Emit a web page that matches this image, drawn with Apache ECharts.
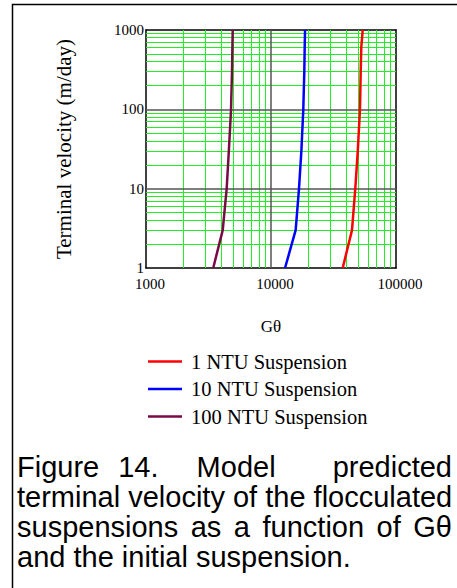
<!DOCTYPE html>
<html>
<head>
<meta charset="utf-8">
<script src="https://cdn.jsdelivr.net/npm/echarts@6/dist/echarts.min.js"></script>
<style>
  html, body { margin: 0; padding: 0; background: #fff; }
  #chart { position: absolute; left: 0; top: 0; width: 457px; height: 588px; }
  #caption { position: absolute; left: 17px; top: 452px; width: 435px;
    font-family: "Liberation Sans", Arial, sans-serif; font-size: 29px; line-height: 30px; color: #000; }
  .j { text-align: justify; text-align-last: justify; white-space: nowrap; }
  .l { text-align: left; white-space: nowrap; }
</style>
</head>
<body>
<div id="chart"></div>
<div id="caption">
  <div class="j">Figure 14. &nbsp;Model &nbsp;&nbsp;predicted</div>
  <div class="j">terminal velocity of the flocculated</div>
  <div class="j">suspensions as a function of Gθ</div>
  <div class="l">and the initial suspension.</div>
</div>
<script>
// Terminal velocity (m/day) values where each curve is read
const velocity = [1, 3, 10, 30, 100, 300, 600, 1000];
// Gθ values for each suspension
const g1NTU   = [37470, 44460, 47240, 49460, 51500, 52200, 52750, 54160];
const g10NTU  = [12950, 15750, 16750, 17500, 18130, 18470, 18600, 18720];
const g100NTU = [3450, 4110, 4420, 4600, 4790, 4875, 4910, 4940];
const seriesNames = ['1 NTU Suspension', '10 NTU Suspension', '100 NTU Suspension'];
// axis ranges
const xRange = [1000, 100000];
const yRange = [1, 1000];
// grid lines
const xMajorGrid = [10000];
const yMajorGrid = [10, 100];
const xMinorGrid = [2000, 3000, 4000, 5000, 6000, 7000, 8000, 9000,
                    20000, 30000, 40000, 50000, 60000, 70000, 80000, 90000];
const yMinorGrid = [2, 3, 4, 5, 6, 7, 8, 9, 20, 30, 40, 50, 60, 70, 80, 90,
                    200, 300, 400, 500, 600, 700, 800, 900];

const pairs = g => g.map((x, i) => [x, velocity[i]]);
const serif = '"Liberation Serif", "Times New Roman", serif';
const chart = echarts.init(document.getElementById('chart'), null, { renderer: 'svg' });
const toLines = (xs, ys) =>
  xs.map(v => ({ coords: [[v, yRange[0]], [v, yRange[1]]] }))
    .concat(ys.map(v => ({ coords: [[xRange[0], v], [xRange[1], v]] })));

function gridSeries(name, lines, color, width, z) {
  return { type: 'lines', name: name, coordinateSystem: 'cartesian2d', z: z, silent: true,
    polyline: false, symbol: ['none', 'none'], effect: { show: false },
    lineStyle: { type: 'solid', color: color, width: width, opacity: 1, curveness: 0 },
    emphasis: { disabled: true }, animation: false, data: lines };
}
const frameLine = { show: true, onZero: false, lineStyle: { color: '#000', width: 1.5 } };
function frameAxis(pos, range) {
  return { type: 'log', logBase: 10, position: pos, min: range[0], max: range[1], interval: 1,
    axisLine: frameLine, axisTick: { show: false }, axisLabel: { show: false },
    splitLine: { show: false }, minorTick: { show: false }, minorSplitLine: { show: false } };
}

chart.setOption({
  animation: false,
  backgroundColor: '#fff',
  grid: { left: 146, top: 30, width: 250, height: 238, show: false },
  xAxis: [{
    type: 'log', logBase: 10, position: 'bottom', min: xRange[0], max: xRange[1], interval: 1,
    name: 'Gθ', nameLocation: 'middle', nameGap: 50,
    nameTextStyle: { fontFamily: serif, fontSize: 17, color: '#000' },
    axisLine: frameLine, axisTick: { show: false },
    axisLabel: { fontFamily: serif, fontSize: 15, color: '#000', margin: 8,
                 padding: [0, 0, 0, 8], formatter: v => String(Math.round(v)) },
    splitLine: { show: false }, minorTick: { show: false }, minorSplitLine: { show: false }
  }, frameAxis('top', xRange)],
  yAxis: [{
    type: 'log', logBase: 10, position: 'left', min: yRange[0], max: yRange[1], interval: 1,
    name: 'Terminal velocity (m/day)', nameLocation: 'middle', nameGap: 72,
    nameTextStyle: { fontFamily: serif, fontSize: 21, color: '#000' },
    axisLine: frameLine, axisTick: { show: false },
    axisLabel: { fontFamily: serif, fontSize: 15, color: '#000', margin: 2,
                 padding: [6, 0, 0, 0], formatter: v => String(Math.round(v)) },
    splitLine: { show: false }, minorTick: { show: false }, minorSplitLine: { show: false }
  }, frameAxis('right', yRange)],
  legend: {
    orient: 'vertical', left: 148, top: 351, padding: 0,
    itemWidth: 34, itemHeight: 2.5, itemGap: 6.5,
    icon: 'rect', data: seriesNames,
    textStyle: { fontFamily: serif, fontSize: 20.5, color: '#000', padding: [0, 0, 0, 4] }
  },
  graphic: [{
    type: 'rect', silent: true,
    shape: { x: 12.5, y: 4.5, width: 460, height: 600 },
    style: { fill: 'none', stroke: '#000', lineWidth: 1.5 }
  }],
  series: [
    gridSeries('_minor', toLines(xMinorGrid, yMinorGrid), '#22ee22', 1, 3),
    gridSeries('_major', toLines(xMajorGrid, yMajorGrid), '#555555', 1.5, 4),
    { type: 'line', name: seriesNames[0], data: pairs(g1NTU), symbol: 'none', z: 6,
      color: '#ff0000', lineStyle: { color: '#ff0000', width: 2.5 } },
    { type: 'line', name: seriesNames[1], data: pairs(g10NTU), symbol: 'none', z: 6,
      color: '#0000ff', lineStyle: { color: '#0000ff', width: 2.5 } },
    { type: 'line', name: seriesNames[2], data: pairs(g100NTU), symbol: 'none', z: 6,
      color: '#7a0a46', lineStyle: { color: '#7a0a46', width: 2.5 } }
  ]
});
</script>
</body>
</html>
